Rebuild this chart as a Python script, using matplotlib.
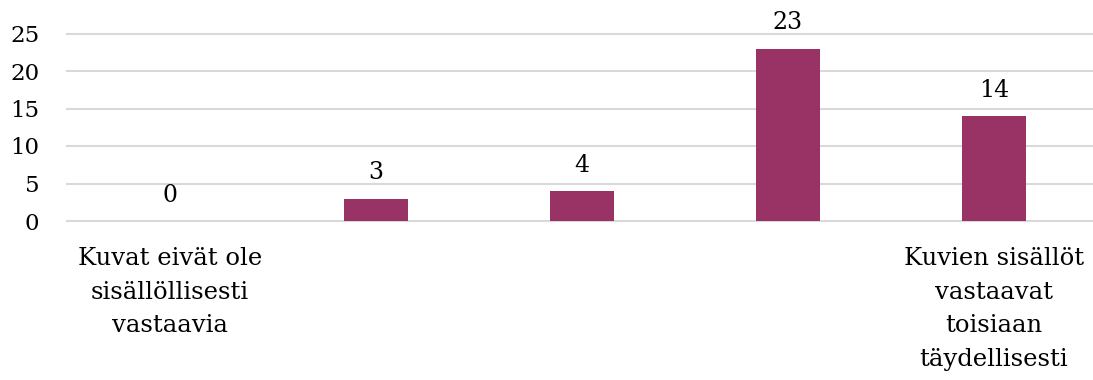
import matplotlib
matplotlib.use("Agg")
import matplotlib.pyplot as plt

categories = [
    "Kuvat eivät ole\nsisällöllisesti\nvastaavia",
    "",
    "",
    "",
    "Kuvien sisällöt\nvastaavat\ntoisiaan\ntäydellisesti",
]
values = [0, 3, 4, 23, 14]
y_ticks = [0, 5, 10, 15, 20, 25]

bar_color = "#993366"
grid_color = "#d9d9d9"
font = ["DejaVu Serif"]

W, H, DPI = 1093, 380, 100
fig = plt.figure(figsize=(W / DPI, H / DPI), dpi=DPI)
left_px, right_px = 67, 1097
top_px, bottom_px = 33.5, 221
ax = fig.add_axes([left_px / W, 1 - bottom_px / H,
                   (right_px - left_px) / W, (bottom_px - top_px) / H])

x = range(len(values))
bars = ax.bar(x, values, width=0.31, color=bar_color, zorder=3)

ax.set_xlim(-0.5, len(values) - 0.5)
ax.set_ylim(0, 25)
ax.set_yticks(y_ticks)
ax.set_yticklabels([str(t) for t in y_ticks], family=font, fontsize=16.5)
ax.yaxis.grid(True, color=grid_color, linewidth=1.5, zorder=0)
for gl in ax.get_ygridlines():
    gl.set_clip_on(False)
ax.tick_params(axis="y", length=0, pad=20)
ax.tick_params(axis="x", length=0, pad=19)
ax.set_xticks(list(x))
ax.set_xticklabels(categories, family=font, fontsize=17.5, linespacing=1.58,
                   va="top")
for s in ax.spines.values():
    s.set_visible(False)

for xi, v in zip(x, values):
    ax.annotate(str(v), (xi, v), xytext=(0, 14), textcoords="offset points",
                ha="center", va="baseline", family=font, fontsize=17,
                annotation_clip=False)

fig.savefig("out.png", dpi=DPI)
